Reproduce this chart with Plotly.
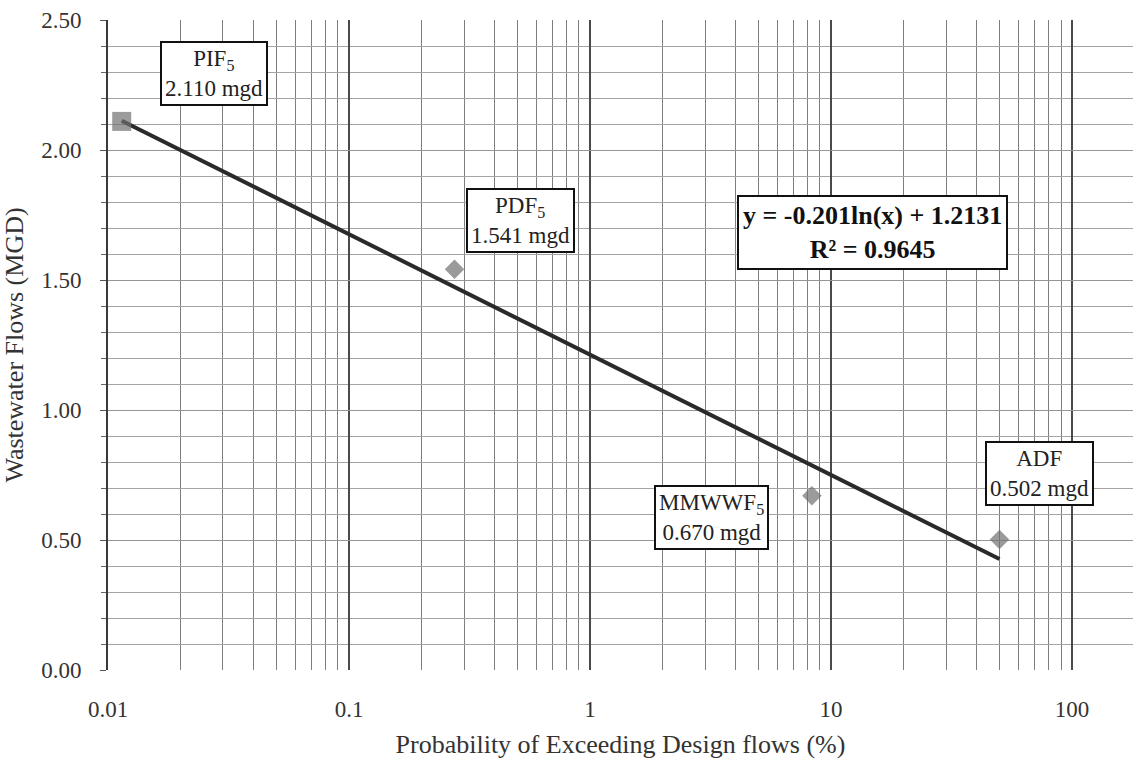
import numpy as np
import plotly.graph_objects as go

# Design flow events: probability of exceedance (%) and flow (mgd)
events = ["PIF<sub>5</sub>", "PDF<sub>5</sub>", "MMWWF<sub>5</sub>", "ADF"]
exceed_pct = [0.0114, 0.274, 8.33, 50.0]
flow_mgd = [2.110, 1.541, 0.670, 0.502]
symbols = ["square", "diamond", "diamond", "diamond"]

# Logarithmic trendline coefficients (y = a ln(x) + b)
trend_a = -0.201
trend_b = 1.2131
trend_r2 = 0.9645

x_ticks = [0.01, 0.1, 1, 10, 100]
x_tick_text = ["0.01", "0.1", "1", "10", "100"]

# Label box placement (log10 x, y) for each event
label_pos = [(-1.56, 2.296), (-0.29, 1.727), (0.502, 0.588), (1.867, 0.754)]
eq_pos = (1.174, 1.681)

SERIF = "Liberation Serif"

trend_x = np.array([min(exceed_pct), max(exceed_pct)])
trend_y = trend_a * np.log(trend_x) + trend_b

fig = go.Figure()
fig.add_trace(go.Scatter(
    x=trend_x, y=trend_y, mode="lines",
    line=dict(color="#2a2a2a", width=4),
    hoverinfo="skip", showlegend=False,
))
fig.add_trace(go.Scatter(
    x=exceed_pct, y=flow_mgd, mode="markers",
    marker=dict(symbol=symbols, size=[19, 15, 15, 15], color="#707070",
                line=dict(width=0)),
    showlegend=False,
))

for name, val, (lx, ly) in zip(events, flow_mgd, label_pos):
    fig.add_annotation(
        x=lx, y=ly, xref="x", yref="y", showarrow=False,
        text=f"{name}<br>{val:.3f} mgd",
        font=dict(family=SERIF, size=23, color="#222"),
        bgcolor="white", bordercolor="#111", borderwidth=2, borderpad=3,
        align="center",
    )

fig.add_annotation(
    x=eq_pos[0], y=eq_pos[1], xref="x", yref="y", showarrow=False,
    text=f"<b>y = {trend_a}ln(x) + {trend_b}<br>R² = {trend_r2}</b>",
    font=dict(family=SERIF, size=26, color="#111"),
    bgcolor="white", bordercolor="#111", borderwidth=2, borderpad=4,
    align="center",
)

minor_x = [k * 10.0 ** e for e in range(-2, 3) for k in range(2, 10)]

fig.update_xaxes(
    type="log", range=[-2, 2.253],
    tickvals=x_ticks, ticktext=x_tick_text,
    showgrid=True, gridcolor="#4a4a4a", gridwidth=1.6,
    minor=dict(tickvals=minor_x, showgrid=True, gridcolor="#7e7e7e",
               gridwidth=1, ticks=""),
    ticks="", ticklabelstandoff=23,
    showline=False, zeroline=False,
    tickfont=dict(family=SERIF, size=23, color="#333"),
    title=dict(text="Probability of Exceeding Design flows (%)",
               font=dict(family=SERIF, size=26, color="#333"), standoff=13),
)
fig.update_yaxes(
    range=[0, 2.5], dtick=0.5, tickformat=".2f",
    showgrid=True, gridcolor="#969696", gridwidth=1,
    minor=dict(dtick=0.1, showgrid=True, gridcolor="#a4a4a4", gridwidth=1,
               ticks="outside", ticklen=5, tickcolor="#666"),
    ticks="outside", ticklen=6, tickcolor="#555",
    ticklabelstandoff=14,
    showline=True, linecolor="#3a3a3a", linewidth=2,
    zeroline=False,
    tickfont=dict(family=SERIF, size=23, color="#333"),
    title=dict(text="Wastewater Flows (MGD)",
               font=dict(family=SERIF, size=26, color="#333"), standoff=10),
)

fig.update_layout(
    width=1133, height=764,
    margin=dict(l=108, r=0, t=20, b=94),
    paper_bgcolor="white", plot_bgcolor="white",
)

fig.write_html("out.html")
